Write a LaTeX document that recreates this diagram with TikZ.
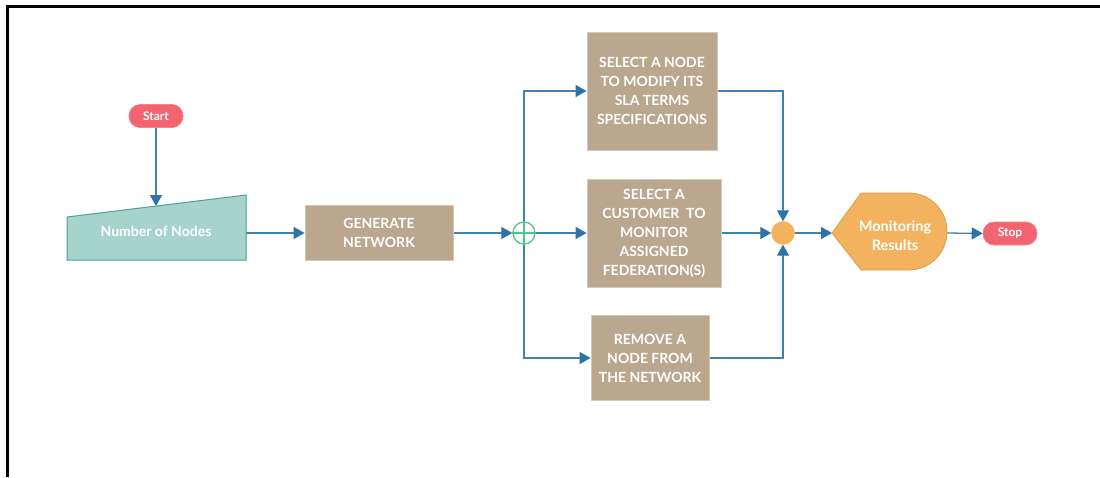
\documentclass[tikz,border=0pt]{standalone}
\usepackage{fontspec}
\setmainfont{Lato}
\usetikzlibrary{arrows.meta,backgrounds}

\definecolor{flowblue}{HTML}{3F82B4}
\definecolor{tipblue}{HTML}{2F72A4}
\definecolor{tan}{HTML}{BBA78E}
\definecolor{tanedge}{HTML}{D6C9B8}
\definecolor{tealfill}{HTML}{A7D3CD}
\definecolor{tealedge}{HTML}{4E9F98}
\definecolor{pillred}{HTML}{F2646F}
\definecolor{orangefill}{HTML}{F2B25E}
\definecolor{orangeedge}{HTML}{DB9E48}
\definecolor{mergegreen}{HTML}{52C58C}

\tikzset{
  flow/.style={draw=flowblue, line width=1.3pt,
    -{Triangle[length=11pt,width=12pt,color=tipblue]}},
  pill/.style={fill=pillred, draw=pillred!80!white, line width=0.6pt,
    rounded corners=11pt, text=white, font=\bfseries\fontsize{12}{14}\selectfont,
    minimum width=54pt, minimum height=23pt, inner sep=0pt},
  proc/.style={fill=tan, draw=tanedge, line width=0.8pt, text=white,
    align=center, font=\bfseries\fontsize{14}{19}\selectfont, inner sep=0pt},
  label/.style={text=white, align=center, inner sep=0pt},
}

\begin{document}
\begin{tikzpicture}[x=1pt,y=-1pt]
\useasboundingbox (0,0) rectangle (1100,477);

% frame
\draw[line width=3pt] (7,477) -- (7,6) -- (1100,6);

% start terminal
\node[pill] (start) at (156,116) {Start};

% manual input: number of nodes
\draw[fill=tealfill, draw=tealedge, line width=1pt]
  (67,217) -- (246,195) -- (246,260) -- (67,260) -- cycle;
\node[label, font=\bfseries\fontsize{14}{16}\selectfont] (nn) at (156,231) {Number of Nodes};
\coordinate (nnTop) at (156,206);
\coordinate (nnR) at (246,233);

% processes
\node[proc, minimum width=148pt, minimum height=55pt] (gen) at (379,233)
  {GENERATE\\NETWORK};
\node[proc, minimum width=130pt, minimum height=118pt] (b1) at (652,91)
  {SELECT A NODE\\TO MODIFY ITS\\SLA TERMS\\SPECIFICATIONS};
\node[proc, minimum width=134pt, minimum height=108pt] (b2) at (654,233)
  {SELECT A\\CUSTOMER~ TO\\MONITOR\\ASSIGNED\\FEDERATION(S)};
\node[proc, minimum width=118pt, minimum height=85pt] (b3) at (650,358)
  {REMOVE A\\NODE FROM\\THE NETWORK};

% split (or) and join
\node[circle, minimum size=22pt, inner sep=0pt, fill=white,
      draw=mergegreen, line width=1.3pt] (split) at (524,233) {};
\draw[mergegreen, line width=1.3pt]
  (split.north) -- (split.south) (split.west) -- (split.east);
\node[circle, minimum size=23pt, inner sep=0pt, fill=orangefill,
      draw=orangefill] (join) at (783,233) {};

% display: monitoring results
\draw[fill=orangefill, draw=orangeedge, line width=0.8pt]
  (832,233) -- (861,193) -- (909,193)
  arc[start angle=-90, end angle=90, x radius=38pt, y radius=-38.5pt]
  -- (861,270) -- cycle;
\node[label, font=\bfseries\fontsize{14.5}{19}\selectfont] (mon) at (895,236)
  {Monitoring\\Results};
\coordinate (monL) at (832,233);
\coordinate (monR) at (947,233);

% stop terminal
\node[pill] (stop) at (1010,233.5) {Stop};

% connectors
\begin{scope}[on background layer]
\draw[flow] (start) -- (nnTop);
\draw[flow] (nnR) -- (gen.west);
\draw[flow] (gen.east) -- (split.west);
\draw[flow] (split.center) |- (b1.west);
\draw[flow] (split.center) -- (b2.west);
\draw[flow] (split.center) |- (b3.west);
\draw[flow] (b1.east) -| (join.north);
\draw[flow] (b2.east) -- (join.west);
\draw[flow] (b3.east) -| (join.south);
\draw[flow] (join.east) -- (monL);
\draw[flow] (monR) -- (stop.west);
\end{scope}
\end{tikzpicture}
\end{document}
